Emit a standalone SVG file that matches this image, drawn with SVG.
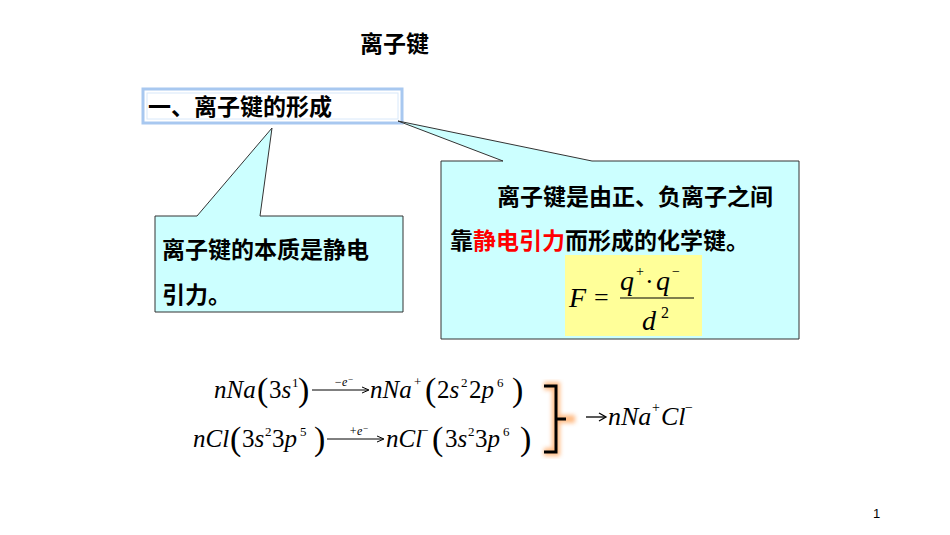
<svg xmlns="http://www.w3.org/2000/svg" width="950" height="535" viewBox="0 0 950 535">
<style>
.cn{font-family:"Noto Sans CJK SC","Liberation Sans",sans-serif;font-weight:bold;font-size:23px;fill:#000}
.m{font-family:"Liberation Serif",serif;font-style:italic;fill:#000}
.r{font-family:"Liberation Serif",serif;fill:#000}
.call{fill:#ccffff;stroke:#333;stroke-width:1}
</style>
<defs><filter id="gl"><feGaussianBlur stdDeviation="2"/></filter></defs>
<rect width="950" height="535" fill="#fff"/>
<text class="cn" x="360" y="52" font-size="22">离子键</text>
<g id="title">
<rect x="143" y="89" width="259" height="34" fill="#fff" stroke="#a8c8f0" stroke-width="3"/>
<rect x="147" y="93" width="251" height="26" fill="none" stroke="#d8e8fa" stroke-width="1"/>
<text class="cn" x="148" y="115">一、离子键的形成</text>
</g>
<g id="left">
<path class="call" d="M155,216 H197 L272,128 L260,216 H403 V312 H155 Z"/>
<text class="cn" x="162" y="258">离子键的本质是静电</text>
<text class="cn" x="162" y="303">引力。</text>
</g>
<g id="right">
<path class="call" d="M441,161 H503 L398,121 L592,161 H799 V339 H441 Z"/>
<text class="cn" x="497" y="205">离子键是由正、负离子之间</text>
<text class="cn" x="450" y="249">靠<tspan fill="#ff0000">静电引力</tspan>而形成的化学键。</text>
<rect x="565" y="255" width="137" height="81" fill="#ffff99"/>
<text class="m" x="569" y="307" font-size="28">F</text>
<text class="r" x="594" y="306" font-size="26">=</text>
<text class="m" x="620" y="290" font-size="28">q</text>
<text class="r" x="636" y="276" font-size="14">+</text>
<text class="r" x="645" y="290" font-size="26">·</text>
<text class="m" x="656" y="290" font-size="28">q</text>
<text class="r" x="672" y="276" font-size="14">−</text>
<line x1="620" y1="298" x2="694" y2="298" stroke="#000" stroke-width="1.2"/>
<text class="m" x="642" y="330" font-size="28">d</text>
<text class="r" x="661" y="318" font-size="16">2</text>
</g>
<g id="eq">
<text class="m" x="214" y="398" font-size="25">nNa</text>
<text class="r" x="257" y="401" font-size="34">(</text>
<text class="r" x="269" y="398" font-size="25">3<tspan font-style="italic">s</tspan></text>
<text class="r" x="292" y="387" font-size="13">1</text>
<text class="r" x="298" y="401" font-size="34">)</text>
<text class="m" x="334" y="386" font-size="12">−e<tspan font-size="9" dy="-4">−</tspan></text>
<text class="m" x="370" y="398" font-size="25">nNa</text>
<text class="r" x="414" y="386" font-size="13">+</text>
<text class="r" x="425" y="401" font-size="34">(</text>
<text class="r" x="437" y="398" font-size="25">2<tspan font-style="italic">s</tspan></text>
<text class="r" x="461" y="387" font-size="13">2</text>
<text class="r" x="469" y="398" font-size="25">2<tspan font-style="italic">p</tspan></text>
<text class="r" x="497" y="387" font-size="13">6</text>
<text class="r" x="512" y="401" font-size="34">)</text>

<text class="m" x="193" y="447" font-size="25">nCl</text>
<text class="r" x="230" y="450" font-size="34">(</text>
<text class="r" x="242" y="447" font-size="25">3<tspan font-style="italic">s</tspan></text>
<text class="r" x="265" y="436" font-size="13">2</text>
<text class="r" x="272" y="447" font-size="25">3<tspan font-style="italic">p</tspan></text>
<text class="r" x="300" y="436" font-size="13">5</text>
<text class="r" x="314" y="450" font-size="34">)</text>
<text class="m" x="349" y="435" font-size="12">+e<tspan font-size="9" dy="-4">−</tspan></text>
<text class="m" x="386" y="447" font-size="25">nCl</text>
<text class="r" x="421" y="435" font-size="13">−</text>
<text class="r" x="432" y="450" font-size="34">(</text>
<text class="r" x="445" y="447" font-size="25">3<tspan font-style="italic">s</tspan></text>
<text class="r" x="468" y="436" font-size="13">2</text>
<text class="r" x="475" y="447" font-size="25">3<tspan font-style="italic">p</tspan></text>
<text class="r" x="503" y="436" font-size="13">6</text>
<text class="r" x="520" y="450" font-size="34">)</text>

<text class="m" x="608" y="425" font-size="26">nNa</text>
<text class="r" x="652" y="412" font-size="14">+</text>
<text class="m" x="661" y="425" font-size="26">Cl</text>
<text class="r" x="685" y="412" font-size="14">−</text>
</g>
<g id="connectors" fill="none" stroke="#000" stroke-width="1">
<line x1="312" y1="390" x2="368" y2="390"/>
<path d="M362,387 L369,390 L362,393" />
<line x1="327" y1="439" x2="383" y2="439"/>
<path d="M377,436 L384,439 L377,442"/>
<line x1="586" y1="417" x2="605" y2="417" stroke-width="1.3"/>
<path d="M599,413 L606,417 L599,421" stroke-width="1.3"/>
<path d="M544,386 H556 V452 H544 M556,419 H575" stroke="#ffaa66" stroke-width="8" filter="url(#gl)" opacity="0.8"/>
<path d="M544,386 H556 V452 H544 M556,419 H566" stroke="#000" stroke-width="3"/>
</g>
<text x="873" y="518" font-family="Liberation Sans,sans-serif" font-size="13">1</text>
</svg>
